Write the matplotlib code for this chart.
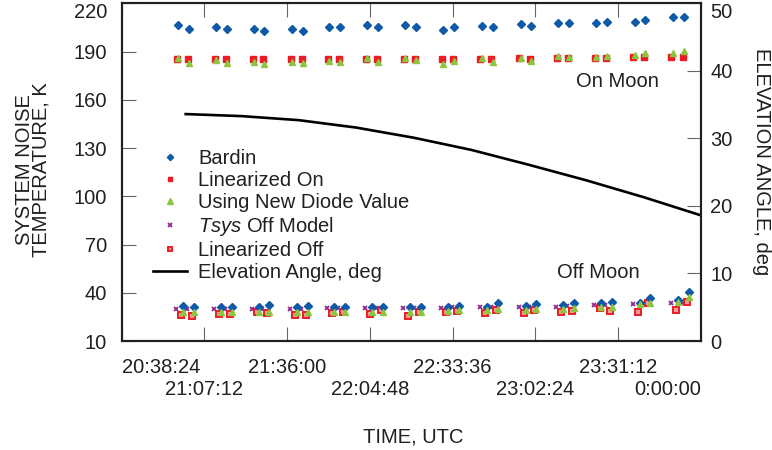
import matplotlib
matplotlib.use("Agg")
import matplotlib.pyplot as plt

plt.rcParams['font.family'] = ['Liberation Sans', 'DejaVu Sans']
plt.rcParams['mathtext.fontset'] = 'custom'
plt.rcParams['mathtext.rm'] = 'Liberation Sans'
plt.rcParams['mathtext.it'] = 'Liberation Sans:italic'

# ---------------- data ----------------
tick_labels = ["20:38:24", "21:07:12", "21:36:00", "22:04:48",
               "22:33:36", "23:02:24", "23:31:12", "0:00:00"]

# on-moon scan times (Bardin and new-diode values)
t_on = ["20:58:06", "21:01:56", "21:11:13", "21:15:03", "21:24:27", "21:28:00",
        "21:37:40", "21:41:30", "21:50:40", "21:54:23", "22:03:47", "22:07:36",
        "22:17:00", "22:20:48", "22:30:20", "22:34:04", "22:43:42", "22:47:32",
        "22:57:18", "23:00:54", "23:10:16", "23:14:06", "23:23:36", "23:27:24",
        "23:37:00", "23:40:30", "23:50:12", "23:54:06"]
t_lin_on = ["20:57:36", "21:01:26", "21:10:43", "21:14:33", "21:23:57", "21:27:30",
            "21:37:10", "21:41:00", "21:50:10", "21:53:53", "22:03:17", "22:07:06",
            "22:16:30", "22:20:18", "22:29:50", "22:33:34", "22:43:12", "22:47:02",
            "22:56:48", "23:00:24", "23:09:46", "23:13:36", "23:23:06", "23:26:54",
            "23:36:30", "23:40:00", "23:49:42", "23:53:36"]
# off-moon scan times
t_off = ["20:59:51", "21:03:41", "21:12:58", "21:16:48", "21:26:12", "21:29:45",
         "21:39:25", "21:43:15", "21:52:25", "21:56:08", "22:05:32", "22:09:21",
         "22:18:45", "22:22:33", "22:32:05", "22:35:49", "22:45:27", "22:49:17",
         "22:59:03", "23:02:39", "23:12:01", "23:15:51", "23:25:21", "23:29:09",
         "23:38:45", "23:42:15", "23:51:57", "23:55:51"]
t_model = ["20:57:26", "21:01:16", "21:10:33", "21:14:23", "21:23:47", "21:27:20",
           "21:37:00", "21:40:50", "21:50:00", "21:53:43", "22:03:07", "22:06:56",
           "22:16:20", "22:20:08", "22:29:40", "22:33:24", "22:43:02", "22:46:52",
           "22:56:38", "23:00:14", "23:09:36", "23:13:26", "23:22:56", "23:26:44",
           "23:36:20", "23:39:50", "23:49:32", "23:53:26"]
t_lin_off = ["20:59:11", "21:03:01", "21:12:18", "21:16:08", "21:25:32", "21:29:05",
             "21:38:45", "21:42:35", "21:51:45", "21:55:28", "22:04:52", "22:08:41",
             "22:18:05", "22:21:53", "22:31:25", "22:35:09", "22:44:47", "22:48:37",
             "22:58:23", "23:01:59", "23:11:21", "23:15:11", "23:24:41", "23:28:29",
             "23:38:05", "23:41:35", "23:51:17", "23:55:11"]

bardin_on = [206.5, 203.8, 205.5, 203.8, 204.2, 203.0, 203.8, 203.0, 205.5, 205.1,
             206.3, 205.1, 206.7, 205.5, 203.2, 205.1, 206.1, 205.5, 207.0, 206.1,
             207.6, 207.6, 207.6, 208.2, 208.2, 209.6, 211.3, 211.7]
lin_on = [185.4, 185.4, 185.4, 185.4, 185.4, 185.4, 185.4, 185.4, 185.4, 185.4,
          185.4, 185.4, 185.4, 185.4, 185.4, 185.4, 185.4, 185.4, 185.8, 185.4,
          186.0, 186.2, 186.0, 186.2, 186.6, 186.8, 186.6, 186.6]
diode_on = [185.8, 183.1, 184.7, 182.7, 183.3, 182.3, 183.3, 182.7, 184.1, 183.3,
            185.8, 183.3, 185.8, 184.7, 182.3, 184.1, 185.8, 183.7, 186.2, 184.3,
            187.2, 186.8, 186.8, 187.4, 187.8, 189.3, 189.3, 190.5]

bardin_off = [31.8, 31.3, 31.3, 31.3, 31.3, 32.4, 31.3, 31.8, 31.3, 31.3,
              31.3, 31.3, 31.0, 31.3, 31.3, 31.8, 31.3, 33.4, 31.8, 33.0,
              32.4, 33.4, 33.4, 34.0, 33.4, 36.9, 35.5, 40.7]
model_off = [29.7, 29.7, 29.7, 29.7, 29.7, 29.7, 29.7, 29.7, 30.3, 30.3,
             30.3, 30.3, 30.3, 30.3, 30.3, 31.0, 31.0, 31.0, 31.0, 31.3,
             31.3, 31.8, 32.4, 32.4, 33.0, 33.4, 33.4, 33.8]
lin_off = [26.2, 25.6, 26.8, 26.6, 27.8, 27.2, 26.2, 26.2, 27.2, 28.2,
           26.8, 29.3, 25.6, 28.2, 28.2, 28.9, 27.6, 29.3, 27.2, 29.3,
           28.2, 28.9, 30.7, 28.9, 28.2, 33.4, 29.3, 34.4]
diode_off = [28.2, 28.2, 28.2, 28.2, 28.2, 28.2, 28.2, 28.2, 28.2, 28.2,
             28.2, 28.2, 28.2, 28.2, 28.9, 29.3, 29.3, 29.9, 29.3, 29.9,
             29.9, 30.3, 31.3, 31.3, 32.8, 33.8, 34.4, 37.2]

elev_times = ["21:00:40", "21:20:00", "21:40:00", "22:00:00", "22:20:00",
              "22:40:00", "23:00:00", "23:20:00", "23:40:00", "0:00:00"]
elev_deg = [33.6, 33.3, 32.7, 31.6, 30.1, 28.3, 26.1, 23.8, 21.3, 18.6]


def to_hours(stamps):
    """Clock strings -> hours, continuing past midnight."""
    out = []
    for s in stamps:
        h, m, sec = (int(v) for v in s.split(':'))
        if h < 12:
            h += 24
        out.append(h + m / 60 + sec / 3600)
    return out


BLUE = '#0f5aa8'
RED = '#ed1c24'
GREEN = '#8cc63f'
PURPLE = '#92278f'
INK = '#231f20'
FS = 14.5

fig = plt.figure(figsize=(7.72, 4.5), dpi=100)
ax = fig.add_axes([0.15764, 0.24222, 0.75039, 0.75044])
ax2 = ax.twinx()

ax.set_zorder(2)
ax.patch.set_visible(False)

# temperatures
ax.plot(to_hours(t_on), bardin_on, ls='none', marker='D', ms=4, mfc=BLUE, mec=BLUE,
        label='Bardin')
ax.plot(to_hours(t_lin_on), lin_on, ls='none', marker='s', ms=4, mfc=RED, mec=RED,
        label='Linearized On')
ax.plot(to_hours(t_on), diode_on, ls='none', marker='^', ms=5, mfc=GREEN, mec=GREEN,
        label='Using New Diode Value')
ax.plot(to_hours(t_model), model_off, ls='none', marker='x', ms=3.5, mew=1.3,
        color=PURPLE, label=r'$\it{Tsys}$ Off Model')
ax.plot(to_hours(t_lin_off), lin_off, ls='none', marker='s', ms=4, mfc='#f79a9a',
        mec=RED, mew=1.4, label='Linearized Off')
ax.plot(to_hours(t_off), bardin_off, ls='none', marker='D', ms=4, mfc=BLUE, mec=BLUE)
ax.plot(to_hours(t_off), diode_off, ls='none', marker='^', ms=5, mfc=GREEN, mec=GREEN)

# elevation angle on the right axis
elev_line, = ax2.plot(to_hours(elev_times), elev_deg, color='black', lw=1.9,
                      label='Elevation Angle, deg')

tick_pos = to_hours(tick_labels)
ax.set_xlim(tick_pos[0], tick_pos[-1])
ax.set_ylim(10, 220)
ax2.set_ylim(0, 50)
ax.set_yticks(range(10, 221, 30))
ax2.set_yticks(range(0, 51, 10))
ax.set_xticks(tick_pos)
xt = ax.set_xticklabels(tick_labels)

for a in (ax, ax2):
    for sp in a.spines.values():
        sp.set_linewidth(1.5)
        sp.set_color(INK)
ax.tick_params(axis='both', direction='in', length=10, width=0.8, color='#666666',
               labelsize=FS, labelcolor=INK)
ax.tick_params(axis='x', top=True, pad=12)
ax.tick_params(axis='y', right=False, pad=10.5)
ax2.tick_params(axis='y', direction='in', length=10, width=0.8, color='#666666',
                labelsize=FS, labelcolor=INK, pad=6.5)

# staggered time labels: every other label drops to a second row
for i, tick in enumerate(ax.xaxis.get_major_ticks()):
    if i % 2 == 1:
        tick.set_pad(28)
xt[0].set_ha('left')
xt[-1].set_ha('right')

# keep the top value labels inside the figure
ax.get_yticklabels()[-1].set_va('top')
ax2.get_yticklabels()[-1].set_va('top')

fig.text(33 / 772, 1 - 170 / 450, 'SYSTEM NOISE\nTEMPERATURE, K', rotation=90,
         ha='center', va='center', fontsize=FS, color=INK, linespacing=0.82)
fig.text(762 / 772, 1 - 162 / 450, 'ELEVATION ANGLE, deg', rotation=270,
         ha='center', va='center', fontsize=FS, color=INK)
fig.text(413 / 772, 1 - 437 / 450, 'TIME, UTC', ha='center', va='center',
         fontsize=FS, color=INK)

ax.text(0.855, 0.767, 'On Moon', transform=ax.transAxes, ha='center', va='center',
        fontsize=FS, color=INK)
ax.text(0.822, 0.204, 'Off Moon', transform=ax.transAxes, ha='center', va='center',
        fontsize=FS, color=INK)

handles, labels = ax.get_legend_handles_labels()
handles.append(elev_line)
labels.append(elev_line.get_label())
ax.legend(handles, labels, loc='upper left', bbox_to_anchor=(153 / 772, 1 - 149 / 450),
          bbox_transform=fig.transFigure, frameon=False, fontsize=FS,
          borderpad=0, borderaxespad=0, handlelength=1.7, handletextpad=0.55,
          labelspacing=0.15, markerscale=0.8, labelcolor=INK)

fig.savefig('out.png', dpi=100)
